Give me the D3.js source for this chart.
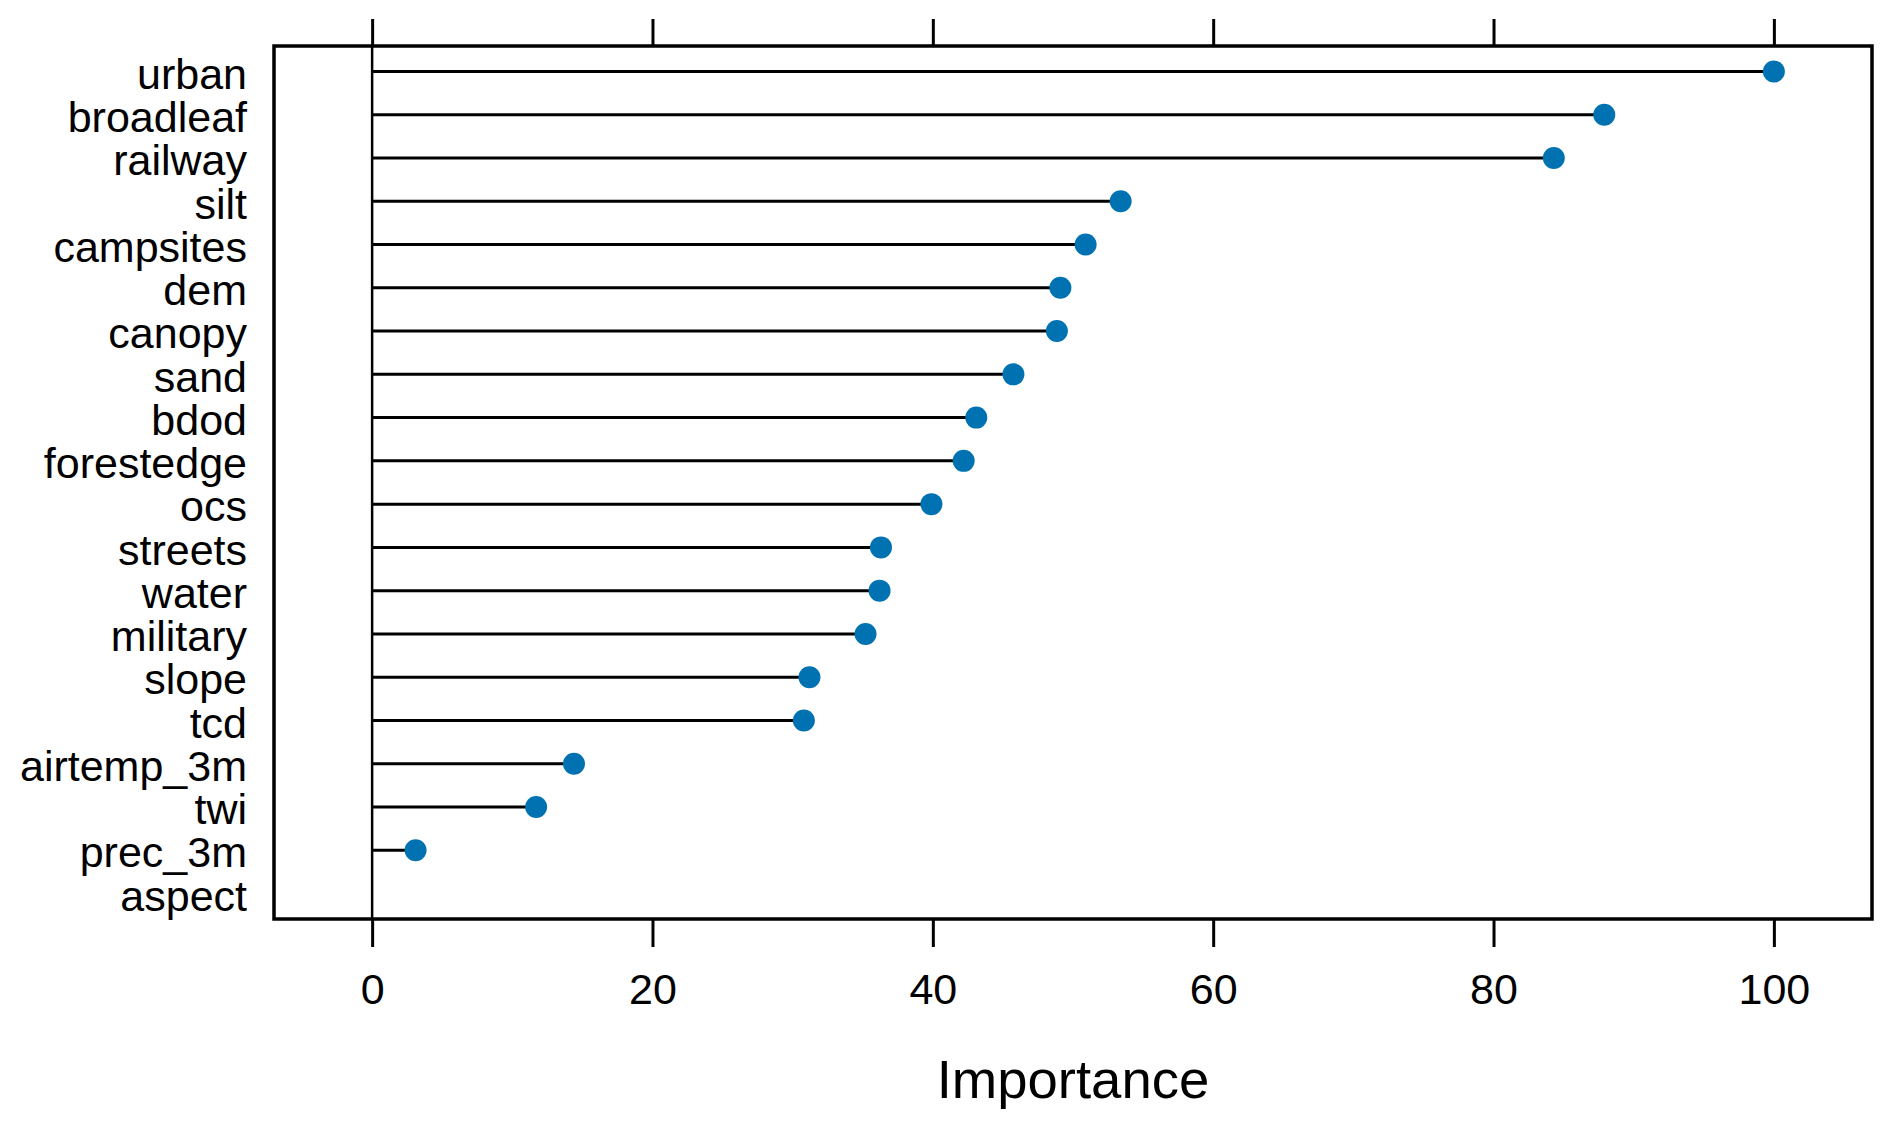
<!DOCTYPE html>
<html>
<head>
<meta charset="utf-8">
<script src="https://cdn.jsdelivr.net/npm/d3@7"></script>
<style>
    body { margin: 0; background: #fff; }
    svg { display: block; font-family: "Liberation Sans", Arial, sans-serif; }
</style>
</head>
<body>
<svg id="chart"></svg>
<script>
const variables = ["urban", "broadleaf", "railway", "silt", "campsites", "dem", "canopy", "sand", "bdod",
    "forestedge", "ocs", "streets", "water", "military", "slope", "tcd", "airtemp_3m", "twi", "prec_3m", "aspect"];
const importance = [100, 87.9, 84.3, 53.4, 50.9, 49.1, 48.85, 45.75, 43.1,
    42.2, 39.9, 36.3, 36.2, 35.2, 31.2, 30.8, 14.4, 11.7, 3.1, null];
const xTicks = [0, 20, 40, 60, 80, 100];
const xTitle = "Importance";

const WIDTH = 1892, HEIGHT = 1127;
const BOX = { left: 274, right: 1872, top: 46, bottom: 919 };
const DOT_COLOR = "#0072B2";

const rows = variables.map((v, i) => ({ name: v, value: importance[i] }));

const svg = d3.select("#chart")
    .attr("width", WIDTH)
    .attr("height", HEIGHT);

const x = d3.scaleLinear()
    .domain([-7, 107])
    .range([BOX.left, BOX.right]);

const y = d3.scalePoint()
    .domain(variables)
    .range([BOX.top, BOX.bottom])
    .padding(0.59);

// reference line at zero
svg.append("line")
    .attr("x1", x(0)).attr("x2", x(0))
    .attr("y1", BOX.top).attr("y2", BOX.bottom)
    .style("stroke", "#000")
    .style("stroke-width", 2.5);

// lollipop stems
svg.append("g")
    .selectAll("line")
    .data(rows.filter(d => d.value != null))
    .enter()
    .append("line")
    .attr("x1", x(0))
    .attr("x2", d => x(d.value))
    .attr("y1", d => y(d.name))
    .attr("y2", d => y(d.name))
    .style("stroke", "#000")
    .style("stroke-width", 3);

// dots
svg.append("g")
    .selectAll("circle")
    .data(rows.filter(d => d.value != null))
    .enter()
    .append("circle")
    .attr("cx", d => x(d.value))
    .attr("cy", d => y(d.name))
    .attr("r", 11)
    .style("fill", DOT_COLOR);

// panel box
svg.append("rect")
    .attr("x", BOX.left)
    .attr("y", BOX.top)
    .attr("width", BOX.right - BOX.left)
    .attr("height", BOX.bottom - BOX.top)
    .style("fill", "none")
    .style("stroke", "#000")
    .style("stroke-width", 3.5);

// bottom axis
const axisB = svg.append("g")
    .attr("transform", `translate(0,${BOX.bottom})`)
    .call(d3.axisBottom(x).tickValues(xTicks).tickSize(28).tickPadding(26));
axisB.select(".domain").remove();
axisB.selectAll(".tick line").style("stroke-width", 3);
axisB.selectAll("text")
    .style("font-size", "43px")
    .style("font-family", "Liberation Sans, Arial, sans-serif")
    .style("fill", "#000");

// top axis (ticks only)
const axisT = svg.append("g")
    .attr("transform", `translate(0,${BOX.top})`)
    .call(d3.axisTop(x).tickValues(xTicks).tickSize(27).tickFormat(""));
axisT.select(".domain").remove();
axisT.selectAll(".tick line").style("stroke-width", 3);

// left labels
const axisL = svg.append("g")
    .attr("transform", `translate(${BOX.left},0)`)
    .call(d3.axisLeft(y).tickSize(0).tickPadding(27));
axisL.select(".domain").remove();
axisL.selectAll("text")
    .attr("dy", "0.39em")
    .style("font-size", "43px")
    .style("font-family", "Liberation Sans, Arial, sans-serif")
    .style("fill", "#000");

// axis title
svg.append("text")
    .attr("x", (BOX.left + BOX.right) / 2)
    .attr("y", 1098)
    .attr("text-anchor", "middle")
    .style("font-size", "54.5px")
    .style("fill", "#000")
    .text(xTitle);
</script>
</body>
</html>
